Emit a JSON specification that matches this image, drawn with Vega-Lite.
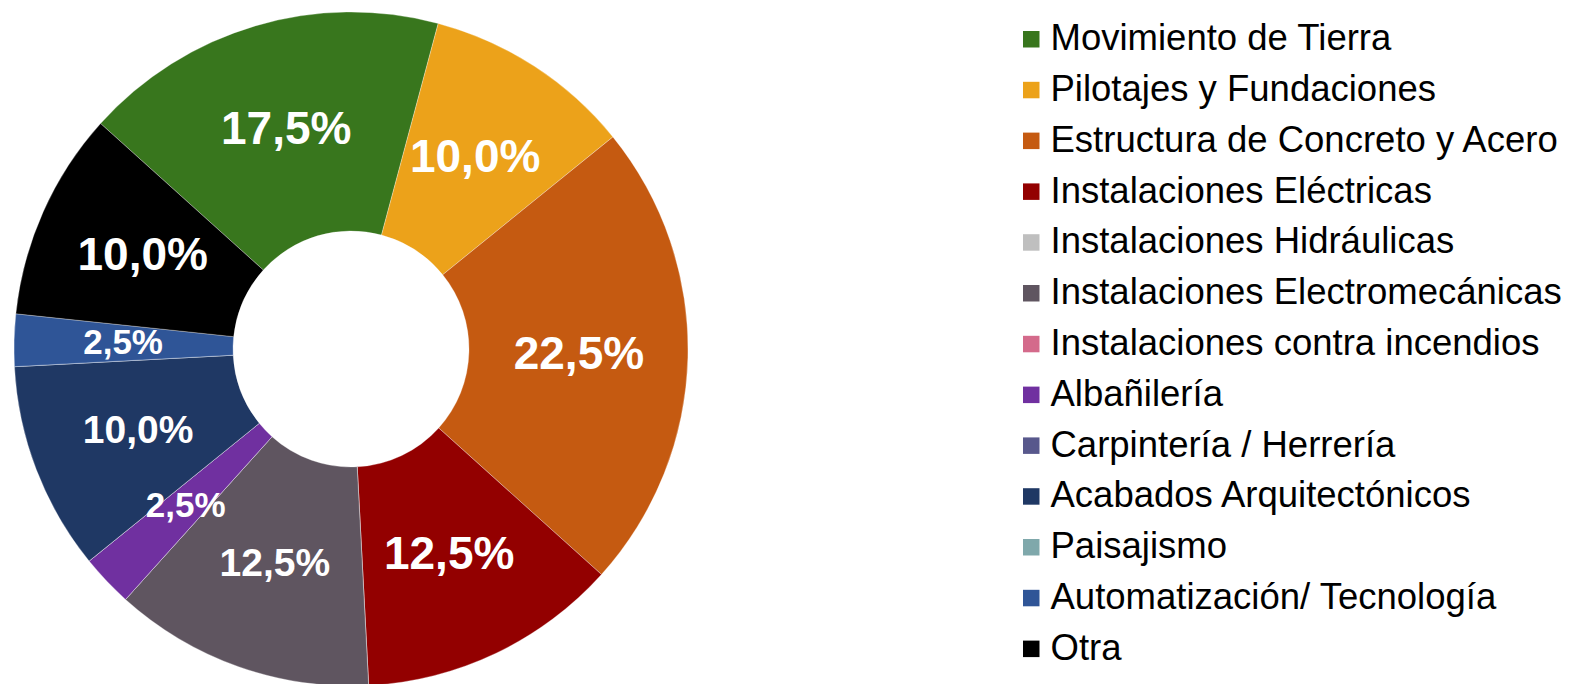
{
  "$schema": "https://vega.github.io/schema/vega-lite/v6.json",
  "width": 702,
  "height": 674,
  "padding": {"left": 0, "top": 10, "right": 0, "bottom": 0},
  "autosize": {"type": "pad"},
  "background": "white",
  "config": {"view": {"stroke": null}, "font": "Liberation Sans"},
  "data": {
    "values": [
      {"i": 1, "cat": "Movimiento de Tierra", "value": 17.5, "label": "17,5%"},
      {"i": 2, "cat": "Pilotajes y Fundaciones", "value": 10, "label": "10,0%"},
      {"i": 3, "cat": "Estructura de Concreto y Acero", "value": 22.5, "label": "22,5%"},
      {"i": 4, "cat": "Instalaciones Eléctricas", "value": 12.5, "label": "12,5%"},
      {"i": 5, "cat": "Instalaciones Hidráulicas", "value": 0, "label": ""},
      {"i": 6, "cat": "Instalaciones Electromecánicas", "value": 12.5, "label": "12,5%"},
      {"i": 7, "cat": "Instalaciones contra incendios", "value": 0, "label": ""},
      {"i": 8, "cat": "Albañilería", "value": 2.5, "label": "2,5%"},
      {"i": 9, "cat": "Carpintería / Herrería", "value": 0, "label": ""},
      {"i": 10, "cat": "Acabados Arquitectónicos", "value": 10, "label": "10,0%"},
      {"i": 11, "cat": "Paisajismo", "value": 0, "label": ""},
      {"i": 12, "cat": "Automatización/ Tecnología", "value": 2.5, "label": "2,5%"},
      {"i": 13, "cat": "Otra", "value": 10, "label": "10,0%"}
    ]
  },
  "encoding": {
    "theta": {"field": "value", "type": "quantitative", "stack": true, "scale": {"range": [-0.8378, 5.4454]}},
    "order": {"field": "i", "type": "quantitative"}
  },
  "layer": [
    {
      "mark": {"type": "arc", "innerRadius": 118, "outerRadius": 337, "stroke": "#ffffff", "strokeWidth": 0.6, "strokeOpacity": 0.5},
      "encoding": {
        "color": {
          "field": "cat",
          "type": "nominal",
          "sort": null,
          "scale": {
            "domain": ["Movimiento de Tierra", "Pilotajes y Fundaciones", "Estructura de Concreto y Acero", "Instalaciones Eléctricas", "Instalaciones Hidráulicas", "Instalaciones Electromecánicas", "Instalaciones contra incendios", "Albañilería", "Carpintería / Herrería", "Acabados Arquitectónicos", "Paisajismo", "Automatización/ Tecnología", "Otra"],
            "range": ["#38761d", "#eca21a", "#c55a11", "#930000", "#bfbfbf", "#5f5560", "#d46a8b", "#7030a0", "#58588c", "#1f3864", "#7fa8ab", "#2f5597", "#000000"]
          },
          "legend": {
            "title": null,
            "orient": "none",
            "legendX": 1013,
            "legendY": 9,
            "symbolType": "square",
            "symbolSize": 272,
            "symbolStrokeWidth": 0,
            "labelFontSize": 36.5,
            "labelFont": "Liberation Sans",
            "labelColor": "#000000",
            "labelOffset": 1,
            "rowPadding": 13.8,
            "labelLimit": 700,
            "padding": 0
          }
        }
      }
    },
    {
      "mark": {"type": "text", "radius": 228, "fontWeight": "bold", "color": "#ffffff", "align": "center", "baseline": "middle", "font": "Liberation Sans"},
      "encoding": {
        "text": {"field": "label", "type": "nominal"},
        "size": {
          "condition": [
            {"test": "datum.value < 5", "value": 35},
            {"test": "datum.cat === 'Acabados Arquitectónicos' || datum.cat === 'Instalaciones Electromecánicas'", "value": 39}
          ],
          "value": 46
        }
      }
    }
  ]
}
